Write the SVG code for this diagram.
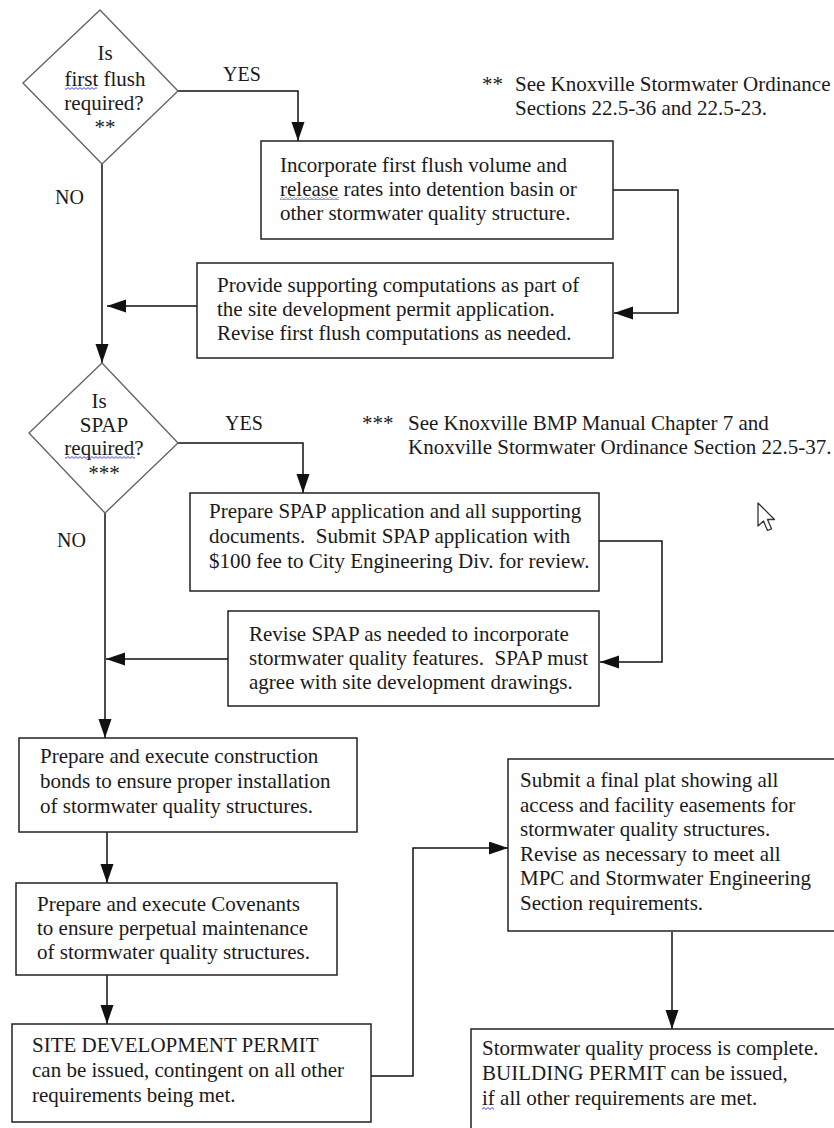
<svg xmlns="http://www.w3.org/2000/svg" width="834" height="1128" viewBox="0 0 834 1128" font-family="'Liberation Serif', 'DejaVu Serif', serif">
<style>
text{font-family:'Liberation Serif','DejaVu Serif',serif;font-size:21px;fill:#1a1a1a;white-space:pre}
.lbl{font-size:20px}
.box{fill:#fff;stroke:#222;stroke-width:1.5}
.dia{fill:#fff;stroke:#666;stroke-width:1.4}
.con{fill:none;stroke:#111;stroke-width:1.5}
.c{text-anchor:middle}
.sq{fill:url(#sq)}
</style>
<defs>
<marker id="ah" markerUnits="userSpaceOnUse" markerWidth="20" markerHeight="14" refX="19" refY="6.5" orient="auto">
<path d="M0,0 L19,6.5 L0,13 z" fill="#111"/>
</marker>
<pattern id="sq" width="4" height="3" patternUnits="userSpaceOnUse">
<path d="M0,0.6 L2,2.4 L4,0.6" fill="none" stroke="#3333dd" stroke-width="0.9"/>
</pattern>
</defs>
<rect width="834" height="1128" fill="#fff"/>

<g id="connectors">
<polyline class="con" points="178,91 298,91 298,141" marker-end="url(#ah)"/>
<polyline class="con" points="613,190 678,190 678,313 614,313" marker-end="url(#ah)"/>
<polyline class="con" points="197,306 107,306" marker-end="url(#ah)"/>
<polyline class="con" points="102,164 102,363" marker-end="url(#ah)"/>
<polyline class="con" points="178,443 303,443 303,493" marker-end="url(#ah)"/>
<polyline class="con" points="599,541 662,541 662,662 600,662" marker-end="url(#ah)"/>
<polyline class="con" points="228,659 106,659" marker-end="url(#ah)"/>
<polyline class="con" points="105,513 105,738" marker-end="url(#ah)"/>
<polyline class="con" points="107,832 107,883" marker-end="url(#ah)"/>
<polyline class="con" points="107,975 107,1024" marker-end="url(#ah)"/>
<polyline class="con" points="371,1076 413,1076 413,848 508,848" marker-end="url(#ah)"/>
<polyline class="con" points="672,932 672,1029" marker-end="url(#ah)"/>
<text class="lbl" x="223" y="81">YES</text>
<text class="lbl" x="55" y="204">NO</text>
<text class="lbl" x="225" y="430">YES</text>
<text class="lbl" x="57" y="547">NO</text>
</g>

<g id="d1">
<polygon class="dia" points="100,10 178,91 102,164 23,83"/>
<text class="c" x="105" y="60">Is</text>
<text class="c" x="105" y="86">first flush</text>
<text class="c" x="104" y="110">required?</text>
<text class="c" x="105" y="134">**</text>
<rect class="sq" x="65" y="87" width="32" height="3"/>
</g>

<g id="note1">
<text x="482" y="91">**</text>
<text x="515" y="91">See Knoxville Stormwater Ordinance</text>
<text x="515" y="115">Sections 22.5-36 and 22.5-23.</text>
</g>

<g id="b1">
<rect class="box" x="261" y="141" width="352" height="98"/>
<text x="280" y="172">Incorporate first flush volume and</text>
<text x="280" y="196">release rates into detention basin or</text>
<text x="280" y="220">other stormwater quality structure.</text>
<rect class="sq" x="280" y="197" width="59" height="3"/>
</g>

<g id="b2">
<rect class="box" x="197" y="263" width="416" height="95"/>
<text x="217" y="292">Provide supporting computations as part of</text>
<text x="217" y="316">the site development permit application.</text>
<text x="217" y="340">Revise first flush computations as needed.</text>
</g>

<g id="d2">
<polygon class="dia" points="102,363 178,443 105,513 29,433"/>
<text class="c" x="99" y="408">Is</text>
<text class="c" x="104" y="432">SPAP</text>
<text class="c" x="104" y="455">required?</text>
<text class="c" x="104" y="480">***</text>
<rect class="sq" x="65" y="456" width="70" height="3"/>
</g>

<g id="note2">
<text x="362" y="430">***</text>
<text x="408" y="430">See Knoxville BMP Manual Chapter 7 and</text>
<text x="408" y="454">Knoxville Stormwater Ordinance Section 22.5-37.</text>
</g>

<g id="b3">
<rect class="box" x="190" y="493" width="409" height="98"/>
<text x="209" y="518">Prepare SPAP application and all supporting</text>
<text x="209" y="543" xml:space="preserve">documents.  Submit SPAP application with</text>
<text x="209" y="568">$100 fee to City Engineering Div. for review.</text>
</g>

<g id="b4">
<rect class="box" x="228" y="611" width="371" height="95"/>
<text x="249" y="641">Revise SPAP as needed to incorporate</text>
<text x="249" y="665" xml:space="preserve">stormwater quality features.  SPAP must</text>
<text x="249" y="689">agree with site development drawings.</text>
</g>

<g id="b5">
<rect class="box" x="19" y="738" width="338" height="94"/>
<text x="40" y="763">Prepare and execute construction</text>
<text x="40" y="788">bonds to ensure proper installation</text>
<text x="40" y="813">of stormwater quality structures.</text>
</g>

<g id="b6">
<rect class="box" x="16" y="883" width="321" height="92"/>
<text x="37" y="911">Prepare and execute Covenants</text>
<text x="37" y="935">to ensure perpetual maintenance</text>
<text x="37" y="959">of stormwater quality structures.</text>
</g>

<g id="b7">
<rect class="box" x="12" y="1024" width="359" height="98"/>
<text x="32" y="1052">SITE DEVELOPMENT PERMIT</text>
<text x="32" y="1077">can be issued, contingent on all other</text>
<text x="32" y="1102">requirements being met.</text>
</g>

<g id="b8">
<rect class="box" x="508" y="759" width="340" height="172"/>
<text x="520" y="787">Submit a final plat showing all</text>
<text x="520" y="812">access and facility easements for</text>
<text x="520" y="836">stormwater quality structures.</text>
<text x="520" y="861">Revise as necessary to meet all</text>
<text x="520" y="885">MPC and Stormwater Engineering</text>
<text x="520" y="910">Section requirements.</text>
</g>

<g id="b9">
<rect class="box" x="471" y="1029" width="380" height="110"/>
<text x="482" y="1055">Stormwater quality process is complete.</text>
<text x="482" y="1080">BUILDING PERMIT can be issued,</text>
<text x="482" y="1105">if all other requirements are met.</text>
<rect class="sq" x="482" y="1107" width="12" height="3"/>
</g>

<g id="cursor">
<path d="M758,503 L758,526 L763.5,521 L767.5,530.5 L771.5,528.8 L767.5,519.5 L774.5,519.5 Z" fill="#fff" stroke="#333" stroke-width="1.3" stroke-linejoin="round"/>
</g>
</svg>
